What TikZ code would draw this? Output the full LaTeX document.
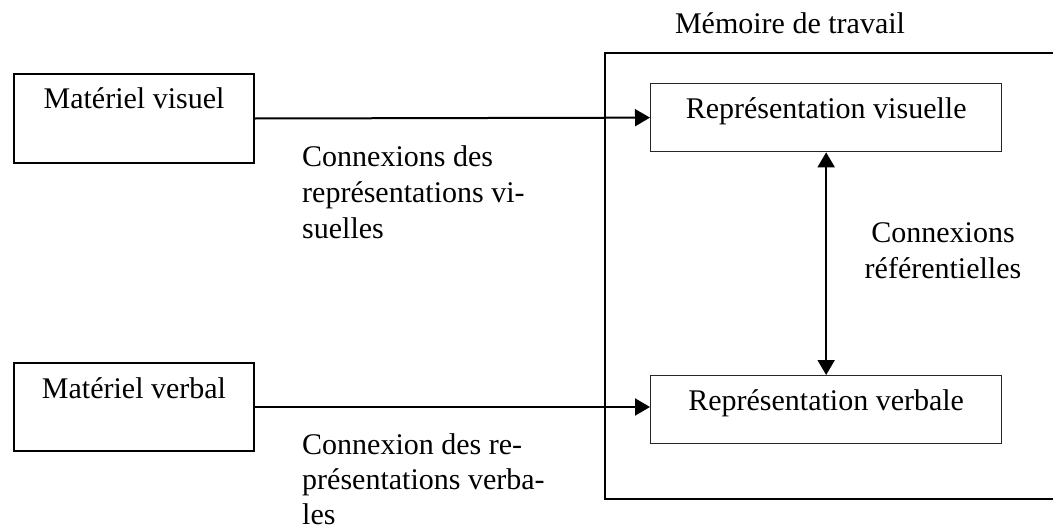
\documentclass[tikz,border=0pt]{standalone}
\usepackage{fontspec}
\setmainfont{Liberation Serif}
\usetikzlibrary{arrows.meta}
\begin{document}
\begin{tikzpicture}[x=1pt,y=-1pt,
  every node/.style={font=\fontsize{30}{36}\selectfont, inner sep=0pt},
  outbox/.style={draw, line width=2pt, minimum width=240pt, align=center},
  repbox/.style={draw=black!85, line width=1.3pt, minimum width=351pt, text height=35pt, text depth=33pt},
  wmbox/.style={draw, line width=2pt, minimum width=480pt, minimum height=446pt},
  arrowline/.style={line width=2pt, -{Triangle[length=15pt,width=17pt]}},
  twoway/.style={line width=2pt, {Triangle[length=15pt,width=17pt]}-{Triangle[length=15pt,width=17pt]}},
  conntext/.style={align=left, anchor=base west}
]
\useasboundingbox (0,0) rectangle (1053,530);
\node[wmbox, anchor=north west] (wm) at (604,52) {};
\node[anchor=base] (wmtitle) at (790,33) {Mémoire de travail};
\node[outbox, text height=34pt, text depth=55pt, anchor=north west] (mvis) at (13,73) {Matériel visuel};
\node[outbox, text height=35pt, text depth=53pt, anchor=north west] (mverb) at (13,362) {Matériel verbal};
\node[repbox, anchor=north west] (rvis) at (650,83) {Représentation visuelle};
\node[repbox, anchor=north west] (rverb) at (650,375) {Représentation verbale};
% base anchor of a multi-line node is the baseline of its last line
\node[conntext] (cvis) at (302,238) {Connexions des\\représentations vi-\\suelles};
\node[conntext, font=\fontsize{30}{35}\selectfont] (cverb) at (302,524) {Connexion des re-\\présentations verba-\\les};
\node[align=center, anchor=base] (cref) at (943,278) {Connexions\\référentielles};
\draw[arrowline] (mvis.east) -- (rvis.west);
\draw[arrowline] (mverb.east) -- (mverb.east -| rverb.west);
\draw[twoway] (rvis.south) -- (rverb.north);
\end{tikzpicture}
\end{document}
